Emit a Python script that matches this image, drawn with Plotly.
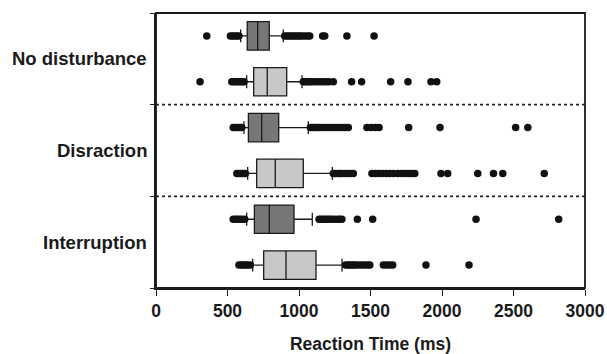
import plotly.graph_objects as go

groups = ["No disturbance", "Disraction", "Interruption"]
row_pos = [0.5, 1.5, 2.5, 3.5, 4.5, 5.5]
row_fill = ["#777777", "#c8c8c8", "#777777", "#c8c8c8", "#777777", "#c8c8c8"]

lower_fence = [592, 634, 615, 641, 634, 676]
q1 = [638, 683, 646, 704, 688, 753]
median = [711, 778, 739, 834, 792, 909]
q3 = [792, 914, 858, 1030, 965, 1119]
upper_fence = [890, 1021, 1065, 1233, 1093, 1301]

outliers = [
    [355, 520, 535, 550, 565, 580, 900, 915, 930, 945, 960, 975, 990, 1005, 1020, 1040,
     1060, 1075, 1165, 1180, 1335, 1525],
    [308, 530, 545, 560, 575, 590, 605, 615, 1030, 1045, 1060, 1075, 1090, 1110, 1130,
     1150, 1170, 1190, 1210, 1240, 1368, 1438, 1641, 1762, 1923, 1963],
    [540, 555, 570, 585, 600, 1080, 1095, 1110, 1125, 1140, 1160, 1180, 1200, 1220, 1240,
     1260, 1280, 1300, 1320, 1345, 1475, 1505, 1535, 1560, 1767, 1986, 2515, 2600],
    [565, 580, 595, 610, 625, 1240, 1255, 1270, 1285, 1300, 1320, 1340, 1360, 1380,
     1510, 1535, 1560, 1585, 1610, 1635, 1660, 1690, 1715, 1740, 1765, 1790, 1810,
     1993, 2040, 2250, 2360, 2425, 2715],
    [540, 555, 570, 585, 600, 620, 1140, 1155, 1170, 1185, 1200, 1215, 1230, 1250, 1270,
     1285, 1300, 1408, 1515, 2238, 2816],
    [580, 595, 610, 625, 640, 660, 1325, 1340, 1355, 1370, 1385, 1400, 1420, 1440, 1460,
     1480, 1495, 1590, 1612, 1635, 1655, 1888, 2189],
]

x_ticks = [0, 500, 1000, 1500, 2000, 2500, 3000]
group_pos = [1, 3, 5]
separators = [2, 4]

FONT = "Liberation Sans, Arial, sans-serif"

fig = go.Figure()
for i in range(6):
    fig.add_trace(go.Box(
        orientation="h",
        y=[row_pos[i]],
        q1=[q1[i]], median=[median[i]], q3=[q3[i]],
        lowerfence=[lower_fence[i]], upperfence=[upper_fence[i]],
        fillcolor=row_fill[i],
        line=dict(color="#1a1a1a", width=1.3),
        width=0.62,
        whiskerwidth=0.45,
        boxpoints=False,
        hoverinfo="skip",
        showlegend=False,
    ))
    fig.add_trace(go.Scatter(
        x=outliers[i], y=[row_pos[i]] * len(outliers[i]),
        mode="markers",
        marker=dict(color="#111111", size=7.5, line=dict(width=0)),
        showlegend=False, hoverinfo="skip",
    ))

for s in separators:
    fig.add_shape(type="line", xref="x", yref="y", x0=0, x1=3000, y0=s, y1=s,
                  line=dict(color="#222222", width=1.6, dash="dot"))

fig.add_shape(type="rect", xref="paper", yref="paper", x0=0, x1=1, y0=0, y1=1,
              line=dict(color="#1a1a1a", width=1.8), fillcolor="rgba(0,0,0,0)", layer="above")

for g, p in zip(groups, group_pos):
    fig.add_annotation(text="<b>" + g + "</b>", xref="paper", yref="y",
                       x=0, y=p, xanchor="right", yanchor="middle", xshift=-7,
                       showarrow=False, font=dict(family=FONT, size=18.5, color="#1a1a1a"))

fig.update_layout(
    width=607, height=354,
    margin=dict(l=156, r=22, t=13, b=66),
    plot_bgcolor="white", paper_bgcolor="white",
    font=dict(family=FONT, color="#1a1a1a"),
    xaxis=dict(
        range=[0, 3000], tickvals=x_ticks,
        ticktext=["<b>%d</b>" % v for v in x_ticks],
        tickfont=dict(size=17.5, family=FONT, color="#1a1a1a"),
        ticks="outside", ticklen=6, tickwidth=1.3, tickcolor="#1a1a1a",
        showline=True, linecolor="#1a1a1a", linewidth=1.8,
        showgrid=False, zeroline=False, automargin=False,
        title=dict(text="<b>Reaction Time (ms)</b>", font=dict(size=17.5, family=FONT, color="#1a1a1a"), standoff=20),
    ),
    yaxis=dict(
        range=[6, 0], tickvals=[0, 2, 4, 6], ticktext=["", "", "", ""],
        ticks="outside", ticklen=4, tickwidth=1.3, tickcolor="#1a1a1a",
        showline=True, linecolor="#1a1a1a", linewidth=1.8,
        showgrid=False, zeroline=False, automargin=False,
    ),
)

fig.write_html("out.html", config={"displayModeBar": False},
               post_script="document.body.style.margin='0px';document.body.style.padding='0px';")
